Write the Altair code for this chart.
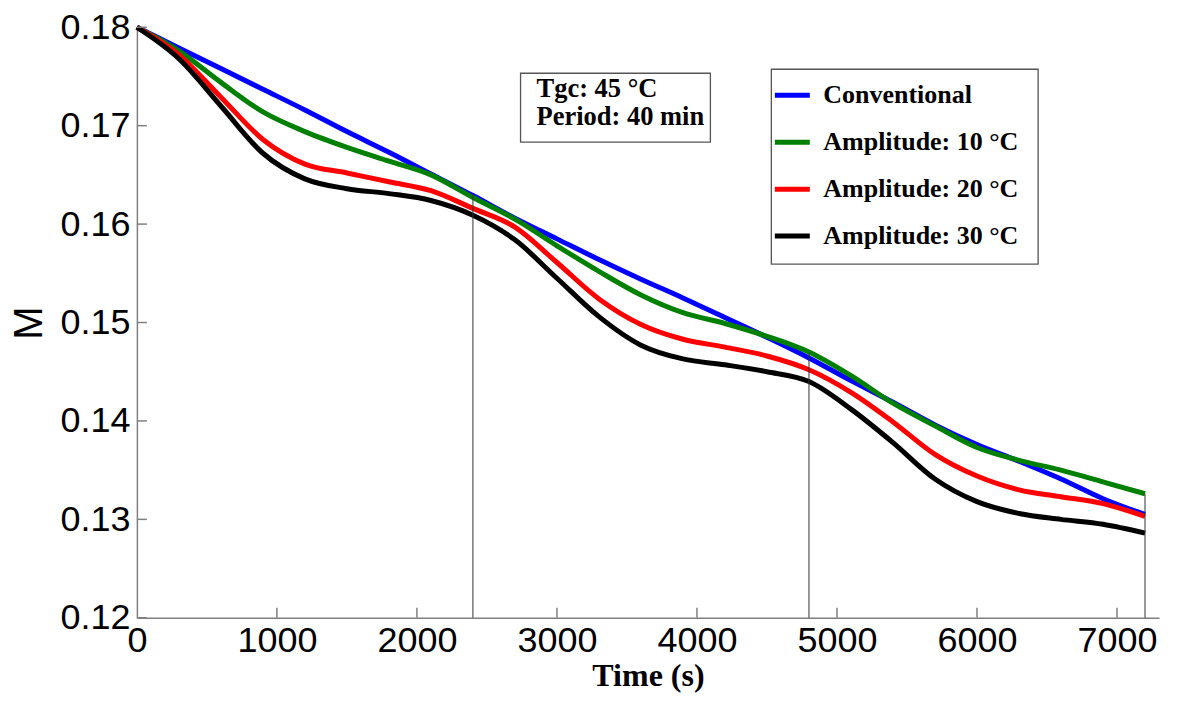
import altair as alt
import pandas as pd

# ---- data ----
time_s = [0, 300, 600, 900, 1200, 1500, 1800, 2100, 2400, 2700, 3000, 3300, 3600,
          3900, 4200, 4500, 4800, 5100, 5400, 5700, 6000, 6300, 6600, 6900, 7200]

conventional = [0.1800, 0.1779, 0.1758, 0.1737, 0.1716, 0.1694, 0.1673, 0.1651, 0.1629,
                0.1606, 0.1585, 0.1564, 0.1544, 0.1525, 0.1505, 0.1485, 0.1464, 0.1441,
                0.1419, 0.1396, 0.1376, 0.1359, 0.1341, 0.1321, 0.1305]
amp10 = [0.1800, 0.1776, 0.1744, 0.1714, 0.1694, 0.1678, 0.1664, 0.1650, 0.1627,
         0.1605, 0.1578, 0.1552, 0.1528, 0.1510, 0.1499, 0.1486, 0.1470, 0.1446,
         0.1418, 0.1395, 0.1373, 0.1360, 0.1350, 0.1338, 0.1326]
amp20 = [0.1800, 0.1772, 0.1729, 0.1686, 0.1661, 0.1652, 0.1643, 0.1634, 0.1616,
         0.1597, 0.1561, 0.1524, 0.1498, 0.1483, 0.1475, 0.1466, 0.1452, 0.1429,
         0.1399, 0.1366, 0.1344, 0.1330, 0.1323, 0.1316, 0.1303]
amp30 = [0.1800, 0.1768, 0.1720, 0.1672, 0.1646, 0.1636, 0.1631, 0.1624, 0.1609,
         0.1584, 0.1545, 0.1506, 0.1477, 0.1463, 0.1457, 0.1450, 0.1440, 0.1412,
         0.1378, 0.1341, 0.1318, 0.1306, 0.1300, 0.1295, 0.1286]

series_names = ["Conventional", "Amplitude: 10 °C", "Amplitude: 20 °C", "Amplitude: 30 °C"]
series_colors = ["#0000FF", "#008000", "#FF0000", "#000000"]

period_marks_t = [2400, 4800, 7200]
period_marks_top = [0.1630, 0.1469, 0.1326]

x_ticks = [0, 1000, 2000, 3000, 4000, 5000, 6000, 7000]
y_ticks = [0.12, 0.13, 0.14, 0.15, 0.16, 0.17, 0.18]

note_lines = ["Tgc: 45 °C", "Period: 40 min"]

# ---- tables ----
rows = []
for name, vals in zip(series_names, [conventional, amp10, amp20, amp30]):
    for i, (t, m) in enumerate(zip(time_s, vals)):
        rows.append({"series": name, "time": t, "M": m, "order": i})
df = pd.DataFrame(rows)
df_marks = pd.DataFrame({"time": period_marks_t, "top": period_marks_top,
                         "bottom": [0.12] * len(period_marks_t)})
df_xt = pd.DataFrame({"time": x_ticks[1:]})
df_yt = pd.DataFrame({"M": y_ticks})

W, H = 1023, 591
XDOM = [0, 7300]
YDOM = [0.12, 0.18]
GRAY = "#808080"

xscale = alt.Scale(domain=XDOM, nice=False, zero=False)
yscale = alt.Scale(domain=YDOM, nice=False, zero=False)

x_axis = alt.Axis(values=x_ticks, format="d", grid=False, tickSize=0,
                  labelFont="Liberation Sans", labelFontSize=36, labelColor="black",
                  labelPadding=6, labelFlush=False, labelOverlap=False,
                  domainColor=GRAY, domainWidth=1.5,
                  title="Time (s)", titleFont="Liberation Serif", titleFontWeight="bold",
                  titleFontSize=32, titleColor="black", titlePadding=2)
y_axis = alt.Axis(values=y_ticks, format=".2f", grid=False, tickSize=0,
                  labelFont="Liberation Sans", labelFontSize=36, labelColor="black",
                  labelPadding=7, labelFlush=False, labelOverlap=False,
                  domainColor=GRAY, domainWidth=1.5,
                  title="M", titleFont="Liberation Sans", titleFontWeight="normal",
                  titleFontSize=40, titleColor="black", titlePadding=10)

lines = alt.Chart(df).mark_line(strokeWidth=5, interpolate="monotone").encode(
    x=alt.X("time:Q", scale=xscale, axis=x_axis),
    y=alt.Y("M:Q", scale=yscale, axis=y_axis),
    color=alt.Color("series:N", sort=series_names,
                    scale=alt.Scale(domain=series_names, range=series_colors),
                    legend=alt.Legend(title=None, orient="none", legendX=636, legendY=48,
                                      symbolType="stroke", symbolSize=1225,
                                      symbolStrokeWidth=5, labelFont="Liberation Serif",
                                      labelFontWeight="bold", labelFontSize=26,
                                      labelColor="black", labelOffset=11, labelLimit=0,
                                      rowPadding=14, padding=0)),
    order="order:Q",
)

period_rules = alt.Chart(df_marks).mark_rule(color="#333333", strokeWidth=1).encode(
    x=alt.X("time:Q", scale=xscale),
    y=alt.Y("top:Q", scale=yscale),
    y2="bottom:Q",
)

xticks = alt.Chart(df_xt).mark_rule(color=GRAY, strokeWidth=1.5).encode(
    x=alt.X("time:Q", scale=xscale),
    y=alt.value(H), y2=alt.value(H - 10),
)
yticks = alt.Chart(df_yt).mark_rule(color=GRAY, strokeWidth=1.5).encode(
    y=alt.Y("M:Q", scale=yscale),
    x=alt.value(0), x2=alt.value(10),
)

note_box = alt.Chart(pd.DataFrame({"a": [0]})).mark_rect(
    fill="white", fillOpacity=0, stroke="#555555", strokeWidth=1.3).encode(
    x=alt.value(384), x2=alt.value(574), y=alt.value(46), y2=alt.value(115))
legend_box = alt.Chart(pd.DataFrame({"a": [0]})).mark_rect(
    fill="white", fillOpacity=0, stroke="#555555", strokeWidth=1.3).encode(
    x=alt.value(635), x2=alt.value(902), y=alt.value(42), y2=alt.value(237))

note_text = alt.Chart(pd.DataFrame({"txt": ["\n".join(note_lines)]})).mark_text(
    align="left", baseline="alphabetic", font="Liberation Serif", fontWeight="bold",
    fontSize=26.5, lineBreak="\n", lineHeight=28, color="black").encode(
    x=alt.value(400), y=alt.value(70), text="txt:N")

chart = alt.layer(
    lines, period_rules, xticks, yticks, note_box, legend_box, note_text
).properties(
    width=W, height=H,
    autosize=alt.AutoSizeParams(type="none"),
    padding={"left": 129, "top": 19, "right": 10, "bottom": 76},
).configure_view(stroke=None)

chart.save("out.html", embed_options={"renderer": "svg", "actions": False})
